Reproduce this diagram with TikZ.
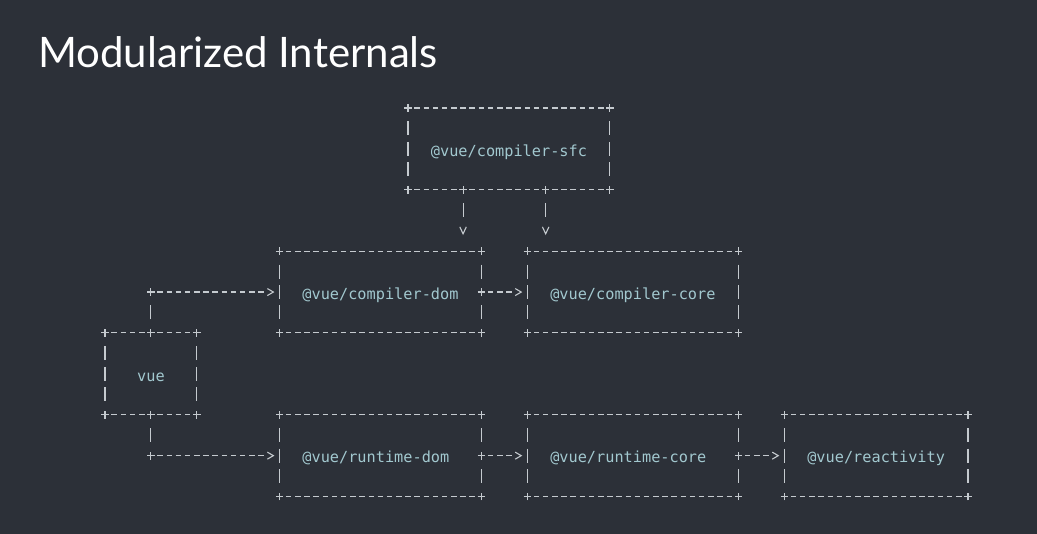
\documentclass[tikz,border=0pt]{standalone}
\usepackage{fontspec}
\usetikzlibrary{arrows.meta}
\newfontfamily\asciimono{DejaVu Sans Mono}
\newfontfamily\titlefont{Lato}
\definecolor{bgc}{HTML}{2C3038}
\definecolor{linec}{HTML}{C5CACF}
\definecolor{labelc}{HTML}{A2C8CF}
\def\asciicw{9.18pt}
\def\asciirh{20.45pt}
\newcommand\asciilabel[1]{\raisebox{-4.5pt}{\mbox{#1}}}
\tikzset{
  asciibox/.style={inner sep=0pt, outer sep=0pt, minimum height=4*\asciirh,
    text=labelc, font=\asciimono\fontsize{15.25pt}{18pt}\selectfont,
    align=left, text height=0.8em, text depth=0.25em},
  asciiline/.style={draw=linec, line width=1.1pt},
  hside/.style={asciiline, dash pattern=on 5.5pt off 3.68pt, shorten <=6.43pt, shorten >=6.43pt},
  vside/.style={asciiline, dash pattern=on 14pt off 6.45pt, shorten <=13.45pt, shorten >=13.45pt},
  vsidej/.style={asciiline, dash pattern=on 14pt off 26.9pt, shorten <=13.45pt, shorten >=13.45pt},
  plusmark/.pic={\draw[linec, line width=1.1pt] (-3.7pt,0) -- (3.7pt,0) (0,-3.9pt) -- (0,3.9pt);},
  harrowshort/.style={asciiline,
    dash pattern=on 5.5pt off 3.68pt on 5.5pt off 3.68pt on 5.5pt off 40pt,
    shorten <=6.43pt, shorten >=5pt, -{Straight Barb[length=6pt,width=7pt]}},
  harrowlong/.style={asciiline,
    dash pattern=on 14pt off 19.88pt on 5.5pt off 3.68pt on 5.5pt off 3.68pt on 5.5pt off 3.68pt
      on 5.5pt off 3.68pt on 5.5pt off 3.68pt on 5.5pt off 3.68pt on 5.5pt off 3.68pt
      on 5.5pt off 3.68pt on 5.5pt off 3.68pt on 5.5pt off 3.68pt on 5.5pt off 3.68pt on 5.5pt off 40pt,
    shorten <=13.45pt, shorten >=5pt, -{Straight Barb[length=6pt,width=7pt]}},
  varrow/.style={asciiline, dash pattern=on 14pt off 40pt,
    shorten <=13.45pt, shorten >=16pt, -{Straight Barb[length=7pt,width=6.5pt]}},
}
\newcommand\asciisides[3]{%
  \draw[hside] (#1.north west) -- (#1.north east);
  \draw[hside] (#1.south west) -- (#1.south east);
  \draw[#2] (#1.north west) -- (#1.south west);
  \draw[#3] (#1.north east) -- (#1.south east);
  \pic at (#1.north west) {plusmark};
  \pic at (#1.north east) {plusmark};
  \pic at (#1.south west) {plusmark};
  \pic at (#1.south east) {plusmark};
}
\begin{document}
\begin{tikzpicture}
\fill[bgc] (0,0) rectangle (1037pt,-534pt);
\useasboundingbox (0,0) rectangle (1037pt,-534pt);
\node[anchor=base west, inner sep=0pt, text=white, font=\titlefont\fontsize{42pt}{48pt}\selectfont] (title) at (38pt,-68pt) {Modularized Internals};
\begin{scope}[x=\asciicw, y=-\asciirh, shift={(77.5pt,-108pt)}]
  \node[asciibox, minimum width=22*\asciicw, text width=17*\asciicw] (sfc) at (47,2) {\asciilabel{@vue/compiler-sfc}};
  \node[asciibox, minimum width=22*\asciicw, text width=17*\asciicw] (cdom) at (33,9) {\asciilabel{@vue/compiler-dom}};
  \node[asciibox, minimum width=23*\asciicw, text width=18*\asciicw] (ccore) at (60.5,9) {\asciilabel{@vue/compiler-core}};
  \node[asciibox, minimum width=10*\asciicw, text width=5*\asciicw, align=center] (vue) at (8,13) {\asciilabel{vue}};
  \node[asciibox, minimum width=22*\asciicw, text width=17*\asciicw] (rdom) at (33,17) {\asciilabel{@vue/runtime-dom}};
  \node[asciibox, minimum width=23*\asciicw, text width=18*\asciicw] (rcore) at (60.5,17) {\asciilabel{@vue/runtime-core}};
  \node[asciibox, minimum width=20*\asciicw, text width=15*\asciicw] (react) at (87,17) {\asciilabel{@vue/reactivity}};
  \coordinate (j1) at (42,4);
  \coordinate (j2) at (51,4);
\end{scope}
\asciisides{sfc}{vside}{vside}
\asciisides{cdom}{vside}{vsidej}
\asciisides{ccore}{vside}{vside}
\asciisides{vue}{vside}{vside}
\asciisides{rdom}{vside}{vsidej}
\asciisides{rcore}{vside}{vsidej}
\asciisides{react}{vside}{vside}
\draw[varrow] (j1) -- (j1 |- cdom.north);
\draw[varrow] (j2) -- (j2 |- ccore.north);
\draw[harrowlong] (vue.north) |- (cdom.west);
\draw[harrowlong] (vue.south) |- (rdom.west);
\draw[harrowshort] (cdom.east) -- (ccore.west);
\draw[harrowshort] (rdom.east) -- (rcore.west);
\draw[harrowshort] (rcore.east) -- (react.west);
\foreach \p in {j1, j2, cdom.east, rdom.east, rcore.east, vue.north, vue.south}
  \pic at (\p) {plusmark};
\pic at (vue.north |- cdom.west) {plusmark};
\pic at (vue.south |- rdom.west) {plusmark};
\end{tikzpicture}
\end{document}
